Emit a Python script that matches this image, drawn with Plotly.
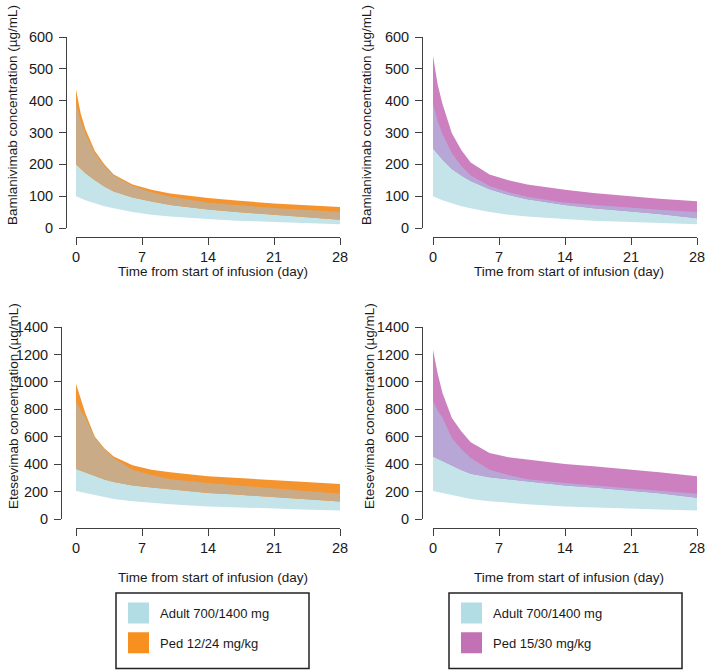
import numpy as np
import plotly.graph_objects as go

W, H = 708, 670

# ---------------- data ----------------
time_days = [0, 0.5, 1, 2, 3, 4, 6, 8, 10, 14, 17, 21, 24, 28]
x_ticks = [0, 7, 14, 21, 28]

# Bamlanivimab (ug/mL)
bam_adult_lo = [100, 93, 87, 78, 68, 62, 50, 42, 36, 28, 23, 19, 16, 12]
bam_adult_hi = [390, 335, 295, 235, 195, 165, 132, 112, 98, 79, 72, 63, 57, 50]
bam_ped12_lo = [200, 185, 172, 150, 130, 115, 96, 83, 72, 58, 50, 42, 36, 26]
bam_ped12_hi = [435, 360, 310, 242, 200, 168, 137, 120, 108, 94, 86, 77, 72, 66]
bam_ped15_lo = [250, 232, 215, 185, 165, 148, 122, 104, 90, 72, 62, 52, 44, 31]
bam_ped15_hi = [541, 450, 390, 298, 245, 206, 168, 150, 137, 120, 110, 99, 92, 84]

# Etesevimab (ug/mL)
ete_adult_lo = [205, 198, 190, 172, 158, 145, 130, 118, 108, 92, 84, 76, 70, 62]
ete_adult_hi = [858, 790, 740, 590, 510, 445, 360, 320, 290, 262, 245, 222, 206, 185]
ete_ped12_lo = [365, 352, 340, 310, 288, 270, 245, 230, 215, 190, 178, 160, 148, 128]
ete_ped12_hi = [987, 880, 770, 600, 515, 455, 392, 360, 340, 312, 298, 282, 272, 255]
ete_ped15_lo = [455, 440, 420, 390, 358, 330, 305, 290, 275, 245, 230, 205, 188, 155]
ete_ped15_hi = [1235, 1060, 920, 737, 640, 559, 481, 450, 433, 401, 385, 360, 340, 311]

bam_title = "Bamlanivimab concentration (µg/mL)"
ete_title = "Etesevimab concentration (µg/mL)"
x_title = "Time from start of infusion (day)"
adult_label = "Adult 700/1400 mg"
ped12_label = "Ped 12/24 mg/kg"
ped15_label = "Ped 15/30 mg/kg"

# ---------------- style ----------------
FONT = "Arial, Liberation Sans, sans-serif"
TXT = "#1a1a1a"
AX = "#404040"
BLUE_FILL = "#c4e4ea"
ORANGE_FILL = "#f4942f"
TAN_FILL = "#c9ac87"
PURPLE_FILL = "#cc80c0"
LAV_FILL = "#b7a6d6"
BLUE_KEY = "#b3dde5"
ORANGE_KEY = "#f7901e"
PURPLE_KEY = "#c272b4"


def fx(px):
    return px / W


def fy(py):
    return 1 - py / H


panels = [
    dict(ax="", xd=(76, 340), yd=(37, 228), xline=237, yline=66, ymax=600, dtick=100,
         adult=(bam_adult_lo, bam_adult_hi), ped=(bam_ped12_lo, bam_ped12_hi),
         pc=ORANGE_FILL, oc=TAN_FILL, ytitle=bam_title, yt=(13, 115), xt=(213, 271)),
    dict(ax="2", xd=(433, 697), yd=(37, 228), xline=237, yline=422, ymax=600, dtick=100,
         adult=(bam_adult_lo, bam_adult_hi), ped=(bam_ped15_lo, bam_ped15_hi),
         pc=PURPLE_FILL, oc=LAV_FILL, ytitle=bam_title, yt=(367, 115), xt=(569, 271)),
    dict(ax="3", xd=(76, 340), yd=(327, 519), xline=528, yline=61, ymax=1400, dtick=200,
         adult=(ete_adult_lo, ete_adult_hi), ped=(ete_ped12_lo, ete_ped12_hi),
         pc=ORANGE_FILL, oc=TAN_FILL, ytitle=ete_title, yt=(13, 406), xt=(213, 577)),
    dict(ax="4", xd=(433, 697), yd=(327, 519), xline=528, yline=422, ymax=1400, dtick=200,
         adult=(ete_adult_lo, ete_adult_hi), ped=(ete_ped15_lo, ete_ped15_hi),
         pc=PURPLE_FILL, oc=LAV_FILL, ytitle=ete_title, yt=(369, 406), xt=(569, 577)),
]

fig = go.Figure()
t = np.array(time_days, dtype=float)
layout = {}
annotations = []


def band(lo, hi, color, xa, ya):
    lo = np.asarray(lo, float)
    hi = np.asarray(hi, float)
    return go.Scatter(
        x=np.concatenate([t, t[::-1]]), y=np.concatenate([lo, hi[::-1]]),
        fill="toself", fillcolor=color, mode="lines", line=dict(width=0),
        hoverinfo="skip", showlegend=False, xaxis=xa, yaxis=ya)


for p in panels:
    xa, ya = "x" + p["ax"], "y" + p["ax"]
    alo, ahi = np.array(p["adult"][0], float), np.array(p["adult"][1], float)
    plo, phi = np.array(p["ped"][0], float), np.array(p["ped"][1], float)
    olo = np.maximum(alo, plo)
    ohi = np.maximum(np.minimum(ahi, phi), olo)
    fig.add_trace(band(alo, ahi, BLUE_FILL, xa, ya))
    fig.add_trace(band(plo, phi, p["pc"], xa, ya))
    fig.add_trace(band(olo, ohi, p["oc"], xa, ya))

    layout["xaxis" + p["ax"]] = dict(
        domain=[fx(p["xd"][0]), fx(p["xd"][1])], range=[0, 28], anchor="free",
        position=fy(p["xline"]), showline=True, linecolor=AX, linewidth=1,
        ticks="outside", ticklen=7, tickcolor=AX, tickwidth=1, tickvals=x_ticks,
        showgrid=False, zeroline=False, tickfont=dict(size=14.5, color=TXT, family=FONT),
        automargin=False, fixedrange=True)
    layout["yaxis" + p["ax"]] = dict(
        domain=[fy(p["yd"][1]), fy(p["yd"][0])], range=[0, p["ymax"]], anchor="free",
        position=fx(p["yline"]), showline=True, linecolor=AX, linewidth=1,
        ticks="outside", ticklen=7, tickcolor=AX, tickwidth=1, dtick=p["dtick"],
        showgrid=False, zeroline=False, tickfont=dict(size=14.5, color=TXT, family=FONT),
        ticklabelstandoff=3, automargin=False, fixedrange=True)
    annotations.append(dict(text=p["ytitle"], x=fx(p["yt"][0]), y=fy(p["yt"][1]),
                            xref="paper", yref="paper", showarrow=False, textangle=-90,
                            xanchor="center", yanchor="middle",
                            font=dict(size=13.5, color=TXT, family=FONT)))
    annotations.append(dict(text=x_title, x=fx(p["xt"][0]), y=fy(p["xt"][1]),
                            xref="paper", yref="paper", showarrow=False,
                            xanchor="center", yanchor="middle",
                            font=dict(size=13.5, color=TXT, family=FONT)))


def key(name, color, legend, group):
    return go.Scatter(x=[None], y=[None], mode="markers", name=name,
                      marker=dict(symbol="square", size=16, color=color,
                                  line=dict(color=color, width=5)),
                      legend=legend, legendgroup=group, showlegend=True)


fig.add_trace(key(adult_label, BLUE_KEY, "legend", "a1"))
fig.add_trace(key(ped12_label, ORANGE_KEY, "legend", "p1"))
fig.add_trace(key(adult_label, BLUE_KEY, "legend2", "a2"))
fig.add_trace(key(ped15_label, PURPLE_KEY, "legend2", "p2"))

legend_common = dict(xanchor="left", yanchor="top", bgcolor="rgba(0,0,0,0)",
                     borderwidth=0, itemwidth=33, tracegroupgap=10,
                     font=dict(size=13, color=TXT, family=FONT), itemclick=False,
                     itemdoubleclick=False)
layout["legend"] = dict(x=fx(117), y=fy(598), **legend_common)
layout["legend2"] = dict(x=fx(450), y=fy(598), **legend_common)

shapes = [
    dict(type="rect", xref="paper", yref="paper", x0=fx(116), x1=fx(309), y0=fy(668.5), y1=fy(593),
         line=dict(color="#222222", width=1.5)),
    dict(type="rect", xref="paper", yref="paper", x0=fx(449), x1=fx(682), y0=fy(668.5), y1=fy(593),
         line=dict(color="#222222", width=1.5)),
]

fig.update_layout(
    width=W, height=H, margin=dict(l=0, r=0, t=0, b=0, autoexpand=False),
    paper_bgcolor="white", plot_bgcolor="white",
    font=dict(family=FONT, color=TXT),
    annotations=annotations, shapes=shapes, **layout)

fig.write_html("out.html", config={"displayModeBar": False, "staticPlot": True},
               post_script="document.body.style.margin='0';document.body.style.overflow='hidden';")
